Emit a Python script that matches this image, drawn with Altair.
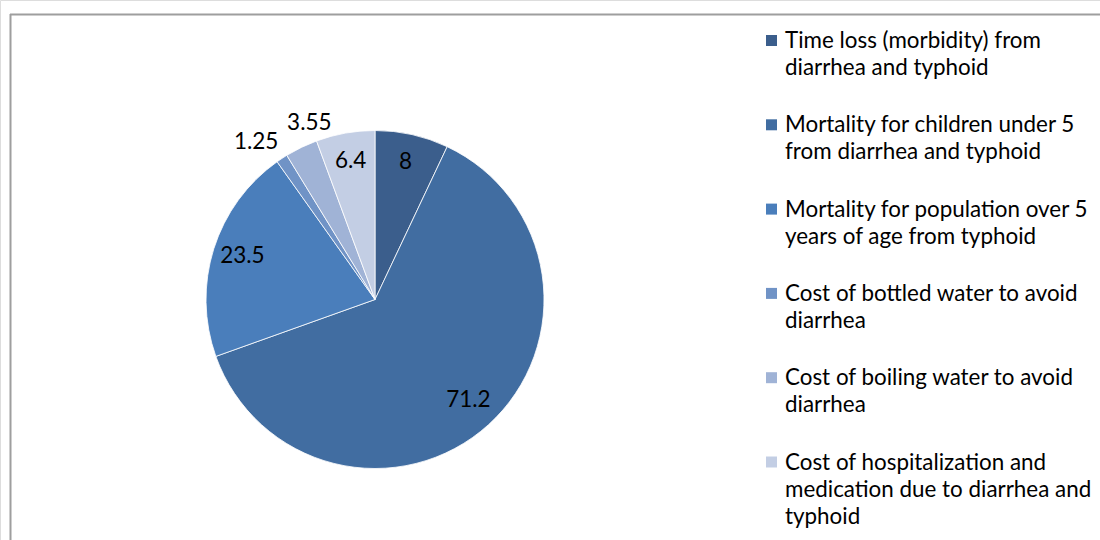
import altair as alt
import pandas as pd

# ---- data ----
categories = [
    "Time loss (morbidity) from diarrhea and typhoid",
    "Mortality for children under 5 from diarrhea and typhoid",
    "Mortality for population over 5 years of age from typhoid",
    "Cost of bottled water to avoid diarrhea",
    "Cost of boiling water to avoid diarrhea",
    "Cost of hospitalization and medication due to diarrhea and typhoid",
]
legend_labels = [
    "Time loss (morbidity) from\ndiarrhea and typhoid",
    "Mortality for children under 5\nfrom diarrhea and typhoid",
    "Mortality for population over 5\nyears of age from typhoid",
    "Cost of bottled water to avoid\ndiarrhea",
    "Cost of boiling water to avoid\ndiarrhea",
    "Cost of hospitalization and\nmedication due to diarrhea and\ntyphoid",
]
values = [8, 71.2, 23.5, 1.25, 3.55, 6.4]
colors = ["#3B5E8C", "#416DA1", "#4A7EBB", "#7093C6", "#A0B3D6", "#C3CEE4"]

df = pd.DataFrame({
    "category": categories,
    "legend": legend_labels,
    "value": values,
    "idx": list(range(len(categories))),
})

FONT = "Lato"
CX, CY, R = 375, 299.5, 169

color_scale = alt.Scale(domain=categories, range=colors)
base = alt.Chart(df)

pie = base.mark_arc(outerRadius=R, stroke="#FFFFFF", strokeWidth=0.8).encode(
    theta=alt.Theta("value:Q", stack=True),
    color=alt.Color("category:N", scale=color_scale, legend=None),
    order=alt.Order("idx:Q"),
    x=alt.value(CX),
    y=alt.value(CY),
)


def label_layer(cond, radius, dx=0, dy=0):
    return base.transform_calculate(
        lab=f"({cond}) ? toString(datum.value) : ''"
    ).mark_text(
        radius=radius, dx=dx, dy=dy, font=FONT, fontSize=22.5, color="#000000",
        align="center", baseline="middle",
    ).encode(
        theta=alt.Theta("value:Q", stack=True),
        order=alt.Order("idx:Q"),
        text="lab:N",
        x=alt.value(CX),
        y=alt.value(CY),
    )


inside = label_layer("datum.value >= 5", 139, dy=-2)
out_a = label_layer("datum.value < 2", 194, dx=-12, dy=4)
out_b = label_layer("datum.value >= 2 && datum.value < 5", 192, dx=18, dy=-4)

leg_y = alt.Y("category:N", sort=categories,
              scale=alt.Scale(type="point", range=[40.5, 462], padding=0),
              axis=None)

leg_sq = base.mark_square(size=121, opacity=1).encode(
    x=alt.value(771.5),
    y=leg_y,
    color=alt.Color("category:N", scale=color_scale, legend=None),
)

leg_txt = base.transform_calculate(
    lines="split(datum.legend, '\\n')"
).mark_text(
    align="left", baseline="alphabetic", font=FONT, fontSize=22.4,
    lineHeight=27, dy=7.5, color="#000000",
).encode(
    x=alt.value(785),
    y=leg_y,
    text="lines:N",
)

frame_df = pd.DataFrame({"k": [0]})
frame_top = alt.Chart(frame_df).mark_rule(color="#9E9E9E", strokeWidth=2).encode(
    x=alt.value(10), x2=alt.value(1100), y=alt.value(14.5)
)
frame_left = alt.Chart(frame_df).mark_rule(color="#9E9E9E", strokeWidth=2).encode(
    x=alt.value(10.5), y=alt.value(14), y2=alt.value(540)
)

chart = alt.layer(
    frame_top, frame_left, pie, inside, out_a, out_b, leg_sq, leg_txt
).properties(
    width=1100, height=540,
    autosize=alt.AutoSizeParams(type="none"),
    padding=0,
).configure_view(stroke=None).configure(background="#FFFFFF")

chart.save("out.html", embed_options={"renderer": "svg", "actions": False})
